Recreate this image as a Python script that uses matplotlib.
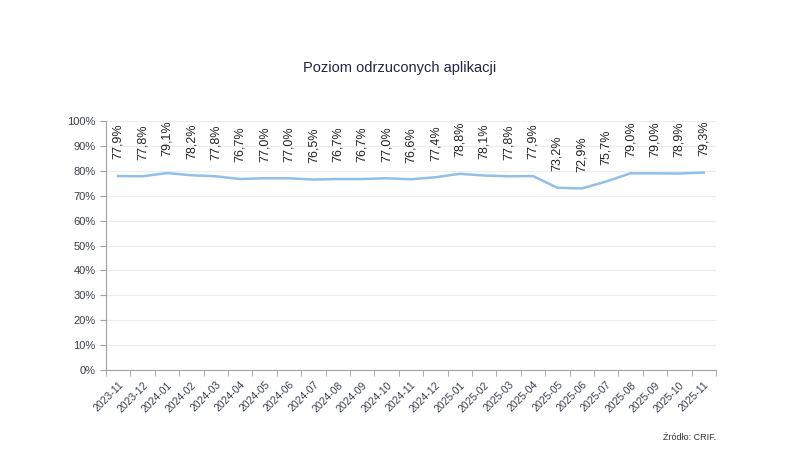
import matplotlib.pyplot as plt
from matplotlib.ticker import FuncFormatter, FixedLocator

plt.rcParams['font.family'] = ['Liberation Sans', 'DejaVu Sans']

# data
months = ["2023-11", "2023-12", "2024-01", "2024-02", "2024-03", "2024-04",
          "2024-05", "2024-06", "2024-07", "2024-08", "2024-09", "2024-10",
          "2024-11", "2024-12", "2025-01", "2025-02", "2025-03", "2025-04",
          "2025-05", "2025-06", "2025-07", "2025-08", "2025-09", "2025-10",
          "2025-11"]
rejected = [77.9, 77.8, 79.1, 78.2, 77.8, 76.7, 77.0, 77.0, 76.5, 76.7,
            76.7, 77.0, 76.6, 77.4, 78.8, 78.1, 77.8, 77.9, 73.2, 72.9,
            75.7, 79.0, 79.0, 78.9, 79.3]

text_col = "#3a3f4a"
fig = plt.figure(figsize=(7.99, 4.74), dpi=100)
ax = fig.add_axes([0.1327, 0.2194, 0.7633, 0.5253])

x = list(range(len(months)))
ax.plot(x, rejected, color="#92bfe8", linewidth=1.8)

for xi, v in zip(x, rejected):
    ax.annotate(f"{v:.1f}%".replace(".", ","), (xi, v), xytext=(0, 12),
                textcoords="offset points", rotation=90, ha="center",
                va="bottom", fontsize=9, color="#222222")

ax.set_xlim(-0.5, len(months) - 0.5)
ax.set_ylim(0, 100)
ax.set_yticks(range(0, 101, 10))
ax.yaxis.set_major_formatter(FuncFormatter(lambda v, p: f"{v:.0f}%"))
ax.set_xticks(x)
ax.set_xticklabels(months, rotation=45, ha="right", rotation_mode="anchor",
                   fontsize=7.5, color=text_col)
ax.tick_params(axis="x", length=0, pad=7)
ax.xaxis.set_minor_locator(FixedLocator([i - 0.5 for i in range(len(months) + 1)]))
ax.tick_params(axis="x", which="minor", length=4, color="#a0a0a0")
ax.tick_params(axis="y", labelsize=8, colors=text_col, length=4, color="#a0a0a0")

ax.grid(axis="y", color="#ececec", linewidth=0.8)
ax.set_axisbelow(True)
for s in ["top", "right"]:
    ax.spines[s].set_visible(False)
ax.spines["left"].set_color("#a0a0a0")
ax.spines["bottom"].set_color("#a0a0a0")

fig.text(0.5, 0.857, "Poziom odrzuconych aplikacji", ha="center", va="center",
         fontsize=10.5, color="#1f2640")
fig.text(0.896, 0.078, "Źródło: CRIF.", ha="right", va="center",
         fontsize=6.5, color="#333333")

fig.savefig("out.png", dpi=100)
